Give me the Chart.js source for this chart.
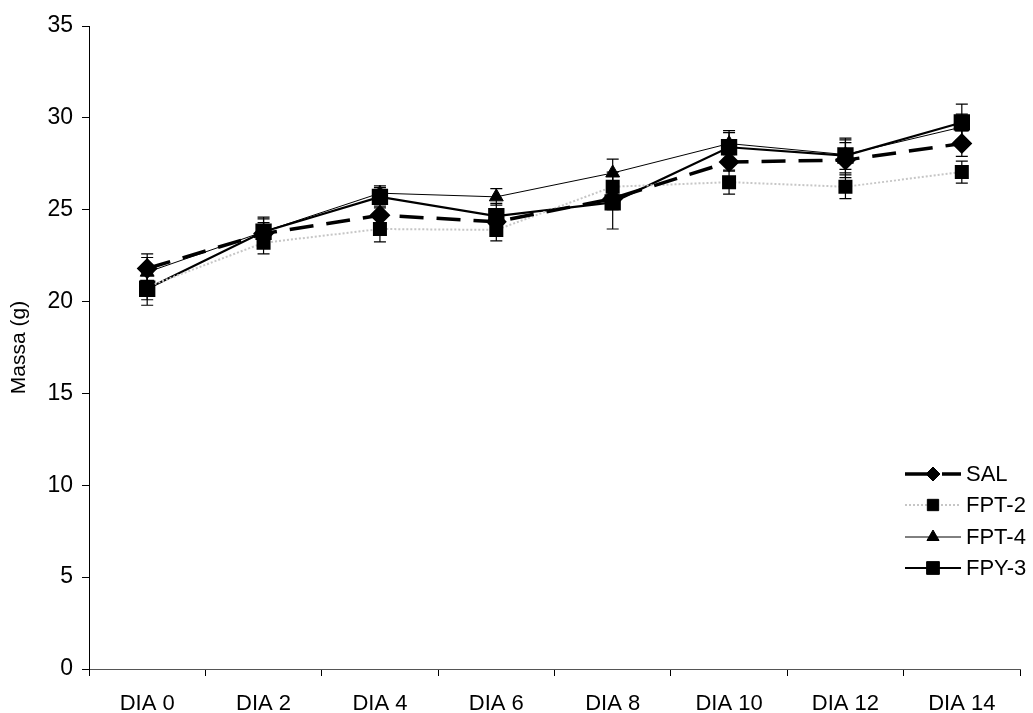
<!DOCTYPE html>
<html>
<head>
<meta charset="utf-8">
<script src="https://cdn.jsdelivr.net/npm/chart.js@4"></script>
<style>
  html, body { margin: 0; padding: 0; background: #fff; }
  #wrap { width: 1033px; height: 713px; }
</style>
</head>
<body>
<div id="wrap"><canvas id="chartCanvas" width="1033" height="713"></canvas></div>
<script>
// categorias e valores (massa em g)
const dias = ['DIA 0', 'DIA 2', 'DIA 4', 'DIA 6', 'DIA 8', 'DIA 10', 'DIA 12', 'DIA 14'];
const sal  = [21.8, 23.7, 24.7, 24.35, 25.6, 27.6, 27.7, 28.6];
const fpt2 = [20.8, 23.2, 23.95, 23.9, 26.25, 26.5, 26.25, 27.05];
const fpt4 = [21.6, 23.8, 25.9, 25.7, 27.0, 28.6, 28.0, 29.5];
const fpy3 = [20.7, 23.8, 25.7, 24.65, 25.4, 28.4, 27.95, 29.75];
// barras de erro
const salErr  = [0.8, 0.6, 0.5, 0.5, 0.6, 0.5, 0.95, 0.7];
const fpt2Err = [0.7, 0.6, 0.7, 0.6, 0.8, 0.65, 0.65, 0.6];
const fpt4Err = [0.8, 0.7, 0.3, 0.45, 0.75, 0.6, 0.8, 0.7];
const fpy3Err = [0.9, 0.8, 0.6, 0.7, 1.45, 0.9, 0.95, 1.0];
const yTicks = [0, 5, 10, 15, 20, 25, 30, 35];

const FONT = 'Liberation Sans, Arial, sans-serif';

// desenha as barras de erro
const errorBars = {
    id: 'errorBars',
    afterDatasetsDraw(chart) {
        const ctx = chart.ctx;
        const y = chart.scales.y;
        ctx.save();
        ctx.strokeStyle = '#000';
        ctx.lineWidth = 1.2;
        chart.data.datasets.forEach((ds, i) => {
            const meta = chart.getDatasetMeta(i);
            meta.data.forEach((pt, j) => {
                const e = ds.err[j];
                const top = y.getPixelForValue(ds.data[j] + e);
                const bot = y.getPixelForValue(ds.data[j] - e);
                ctx.beginPath();
                ctx.moveTo(pt.x, top); ctx.lineTo(pt.x, bot);
                ctx.moveTo(pt.x - 6, top); ctx.lineTo(pt.x + 6, top);
                ctx.moveTo(pt.x - 6, bot); ctx.lineTo(pt.x + 6, bot);
                ctx.stroke();
            });
        });
        ctx.restore();
    }
};

// legenda desenhada dentro da área do gráfico
const insideLegend = {
    id: 'insideLegend',
    afterDraw(chart) {
        const ctx = chart.ctx;
        const x0 = 905, x1 = 961, ys = [474, 505, 537, 568];
        ctx.save();
        chart.data.datasets.forEach((ds, i) => {
            const yy = ys[i];
            ctx.strokeStyle = ds.borderColor;
            ctx.lineWidth = ds.borderWidth;
            ctx.setLineDash(ds.borderDash || []);
            ctx.beginPath();
            ctx.moveTo(x0, yy); ctx.lineTo(x1, yy);
            ctx.stroke();
            ctx.setLineDash([]);
            ctx.fillStyle = '#000';
            ctx.strokeStyle = '#000';
            ctx.lineWidth = 1;
            Chart.helpers.drawPoint(ctx, {
                pointStyle: ds.pointStyle,
                radius: ds.legendRadius,
                rotation: 0,
                borderWidth: 1
            }, (x0 + x1) / 2, yy);
            ctx.fillStyle = '#000';
            ctx.font = '22px ' + FONT;
            ctx.textBaseline = 'middle';
            ctx.textAlign = 'left';
            ctx.fillText(ds.label, 966, yy + 1);
        });
        ctx.restore();
    }
};

const ctx = document.getElementById('chartCanvas').getContext('2d');
new Chart(ctx, {
    type: 'line',
    data: {
        labels: dias,
        datasets: [
            {
                label: 'SAL', data: sal, err: salErr,
                borderColor: '#000', backgroundColor: '#000',
                borderWidth: 3.5, borderDash: [24, 13],
                pointStyle: 'rectRot', pointRadius: 8, legendRadius: 7
            },
            {
                label: 'FPT-2', data: fpt2, err: fpt2Err,
                borderColor: '#c6c6c6', backgroundColor: '#000',
                borderWidth: 2, borderDash: [2, 2],
                pointStyle: 'rect', pointRadius: 8.5, legendRadius: 8
            },
            {
                label: 'FPT-4', data: fpt4, err: fpt4Err,
                borderColor: '#000', backgroundColor: '#000',
                borderWidth: 1,
                pointStyle: 'triangle', pointRadius: 8, legendRadius: 7
            },
            {
                label: 'FPY-3', data: fpy3, err: fpy3Err,
                borderColor: '#000', backgroundColor: '#000',
                borderWidth: 2.2,
                pointStyle: 'rect', pointRadius: 10, legendRadius: 9
            }
        ]
    },
    options: {
        responsive: false,
        animation: false,
        layout: { padding: { top: 26, right: 13, left: 0, bottom: 0 } },
        elements: {
            line: { tension: 0, fill: false },
            point: { borderColor: '#000', borderWidth: 1, hoverRadius: 8 }
        },
        datasets: {
            line: { pointBorderColor: '#000', pointBackgroundColor: '#000' }
        },
        plugins: {
            legend: { display: false },
            tooltip: { enabled: false }
        },
        scales: {
            x: {
                offset: true,
                grid: { display: true, drawOnChartArea: false, offset: true, tickLength: 7, color: '#000' },
                border: { color: '#555', width: 1 },
                ticks: { color: '#000', font: { family: FONT, size: 22 }, padding: 15, maxRotation: 0 },
                afterFit(scale) { scale.height = 44; }
            },
            y: {
                min: 0, max: 35,
                afterBuildTicks(scale) { scale.ticks = yTicks.map(v => ({ value: v })); },
                grid: { display: true, drawOnChartArea: false, tickLength: 7, color: '#000' },
                border: { color: '#000', width: 1 },
                ticks: { color: '#000', font: { family: FONT, size: 23 }, padding: 9 },
                title: { display: true, text: 'Massa (g)', color: '#000', font: { family: FONT, size: 21 }, padding: { top: 7, bottom: 0 } },
                afterFit(scale) { scale.width = 89; }
            }
        }
    },
    plugins: [errorBars, insideLegend]
});
</script>
</body>
</html>
